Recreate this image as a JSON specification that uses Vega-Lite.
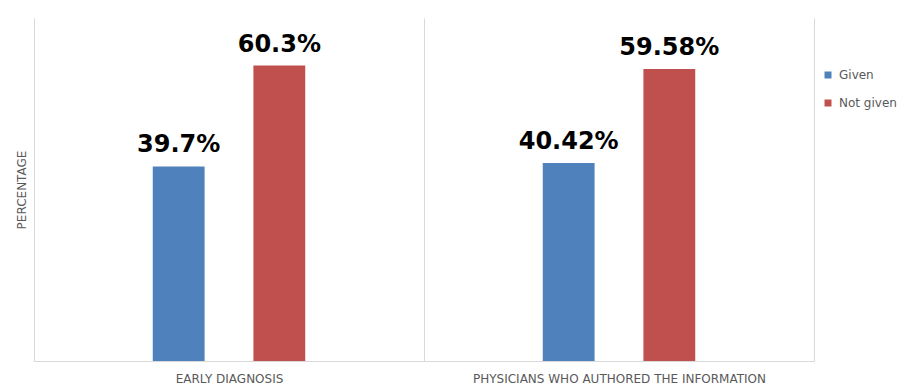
{
  "$schema": "https://vega.github.io/schema/vega-lite/v6.json",
  "autosize": {"type": "none"},
  "padding": {"left": 34, "top": 18, "right": 98, "bottom": 26},
  "width": 780,
  "height": 343,
  "background": "white",
  "data": {
    "values": [
      {"group": "EARLY DIAGNOSIS", "series": "Given", "value": 39.7, "label": "39.7%"},
      {"group": "EARLY DIAGNOSIS", "series": "Not given", "value": 60.3, "label": "60.3%"},
      {"group": "PHYSICIANS WHO AUTHORED THE INFORMATION", "series": "Given", "value": 40.42, "label": "40.42%"},
      {"group": "PHYSICIANS WHO AUTHORED THE INFORMATION", "series": "Not given", "value": 59.58, "label": "59.58%"}
    ]
  },
  "encoding": {
    "x": {
      "field": "group", "type": "nominal", "sort": null,
      "scale": {"paddingInner": 0, "paddingOuter": 0},
      "axis": {
        "title": null, "labelAngle": 0, "ticks": false, "grid": true, "tickBand": "extent",
        "gridColor": "#d9d9d9", "domainColor": "#d9d9d9", "labelColor": "#595959",
        "labelFont": "DejaVu Sans", "labelFontSize": 12, "labelPadding": 12, "labelLimit": 0
      }
    },
    "xOffset": {
      "field": "series", "type": "nominal",
      "scale": {"domain": ["_a", "Given", "Not given", "_b"], "paddingInner": 0.485, "paddingOuter": 0.18}
    },
    "y": {
      "field": "value", "type": "quantitative",
      "scale": {"domain": [0, 70], "nice": false},
      "axis": {
        "title": "PERCENTAGE", "labels": false, "ticks": false, "grid": false,
        "domainColor": "#d9d9d9", "titleColor": "#595959", "titleFont": "DejaVu Sans",
        "titleFontSize": 12, "titleFontWeight": "normal", "titlePadding": 6
      }
    }
  },
  "layer": [
    {
      "mark": {"type": "bar"},
      "encoding": {
        "color": {
          "field": "series", "type": "nominal",
          "scale": {"domain": ["Given", "Not given"], "range": ["#4F81BD", "#C0504D"]},
          "legend": {
            "title": null, "orient": "none", "legendX": 788, "legendY": 51,
            "symbolType": "square", "symbolSize": 49, "symbolStrokeWidth": 0,
            "labelFontSize": 12, "labelColor": "#595959", "labelFont": "DejaVu Sans",
            "rowPadding": 16, "labelOffset": 5
          }
        }
      }
    },
    {
      "mark": {"type": "text", "baseline": "alphabetic", "dy": -14, "font": "DejaVu Sans", "fontWeight": "bold", "fontSize": 24, "color": "#000000"},
      "encoding": {"text": {"field": "label"}}
    }
  ],
  "config": {"view": {"stroke": null}}
}
